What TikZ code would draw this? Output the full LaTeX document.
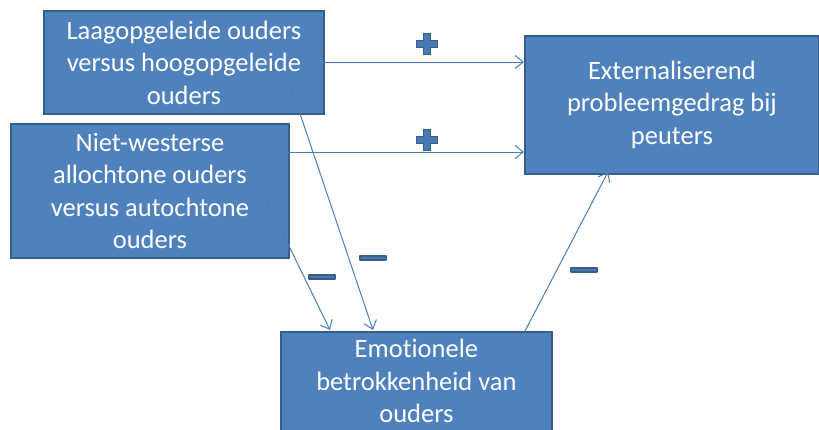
\documentclass[tikz,border=0pt]{standalone}
\usepackage{fontspec}
\setmainfont{Carlito}[Ligatures=NoCommon]
\usetikzlibrary{arrows.meta}
\definecolor{boxfill}{HTML}{4F81BD}
\definecolor{boxline}{HTML}{385D8A}
\definecolor{arrowc}{HTML}{4A7EBB}
\definecolor{signfill}{HTML}{4A78B0}
\begin{document}
\begin{tikzpicture}[x=1pt,y=-1pt,
  box/.style={draw=boxline, fill=boxfill, line width=1.8pt, text=white, align=center,
    font=\fontsize{26.5}{32.5}\selectfont, inner sep=0pt, anchor=north west},
  conn/.style={draw=arrowc, line width=1pt, -{Straight Barb[length=8pt,width=13pt]}},
  signstyle/.style={draw=boxline, fill=signfill, line width=1.5pt, line join=round},
  plussign/.pic={\path[signstyle] (-3.5,-10.5) -- (3.5,-10.5) -- (3.5,-3.5) -- (10.5,-3.5) -- (10.5,3.5) -- (3.5,3.5) -- (3.5,10.5) -- (-3.5,10.5) -- (-3.5,3.5) -- (-10.5,3.5) -- (-10.5,-3.5) -- (-3.5,-3.5) -- cycle;},
  minussign/.pic={\path[signstyle] (-13,-2.2) rectangle (13,2.2);}
]
\clip (0,0) rectangle (819,429);
\node[box, minimum width=280pt, minimum height=103pt] (A) at (43,10) {Laagopgeleide ouders\\versus hoogopgeleide\\ouders};
\node[box, minimum width=278pt, minimum height=134pt] (B) at (10,123) {Niet-westerse\\allochtone ouders\\versus autochtone\\ouders};
\node[box, minimum width=294pt, minimum height=138pt] (C) at (524,35) {Externaliserend\\probleemgedrag bij\\peuters};
\node[box, minimum width=271pt, minimum height=110pt, text depth=12pt] (D) at (280,331) {Emotionele\\betrokkenheid van\\ouders};

\coordinate (a1) at (323,62);
\coordinate (b1) at (288,152);
\coordinate (a2) at (290,84);
\coordinate (b2) at (265,197);
\coordinate (d1) at (373,330);
\coordinate (d2) at (330,330);
\coordinate (d3) at (525,331);
\coordinate (c1) at (608,172);

\draw[conn] (a1) -- (a1 -| C.west);
\draw[conn] (b1) -- (b1 -| C.west);
\draw[conn] (a2) -- (d1);
\draw[conn] (b2) -- (d2);
\draw[conn] (d3) -- (c1);

\pic at (427,44) {plussign};
\pic at (427,140) {plussign};
\pic at (373,258) {minussign};
\pic at (322,277) {minussign};
\pic at (584,270) {minussign};
\end{tikzpicture}
\end{document}
